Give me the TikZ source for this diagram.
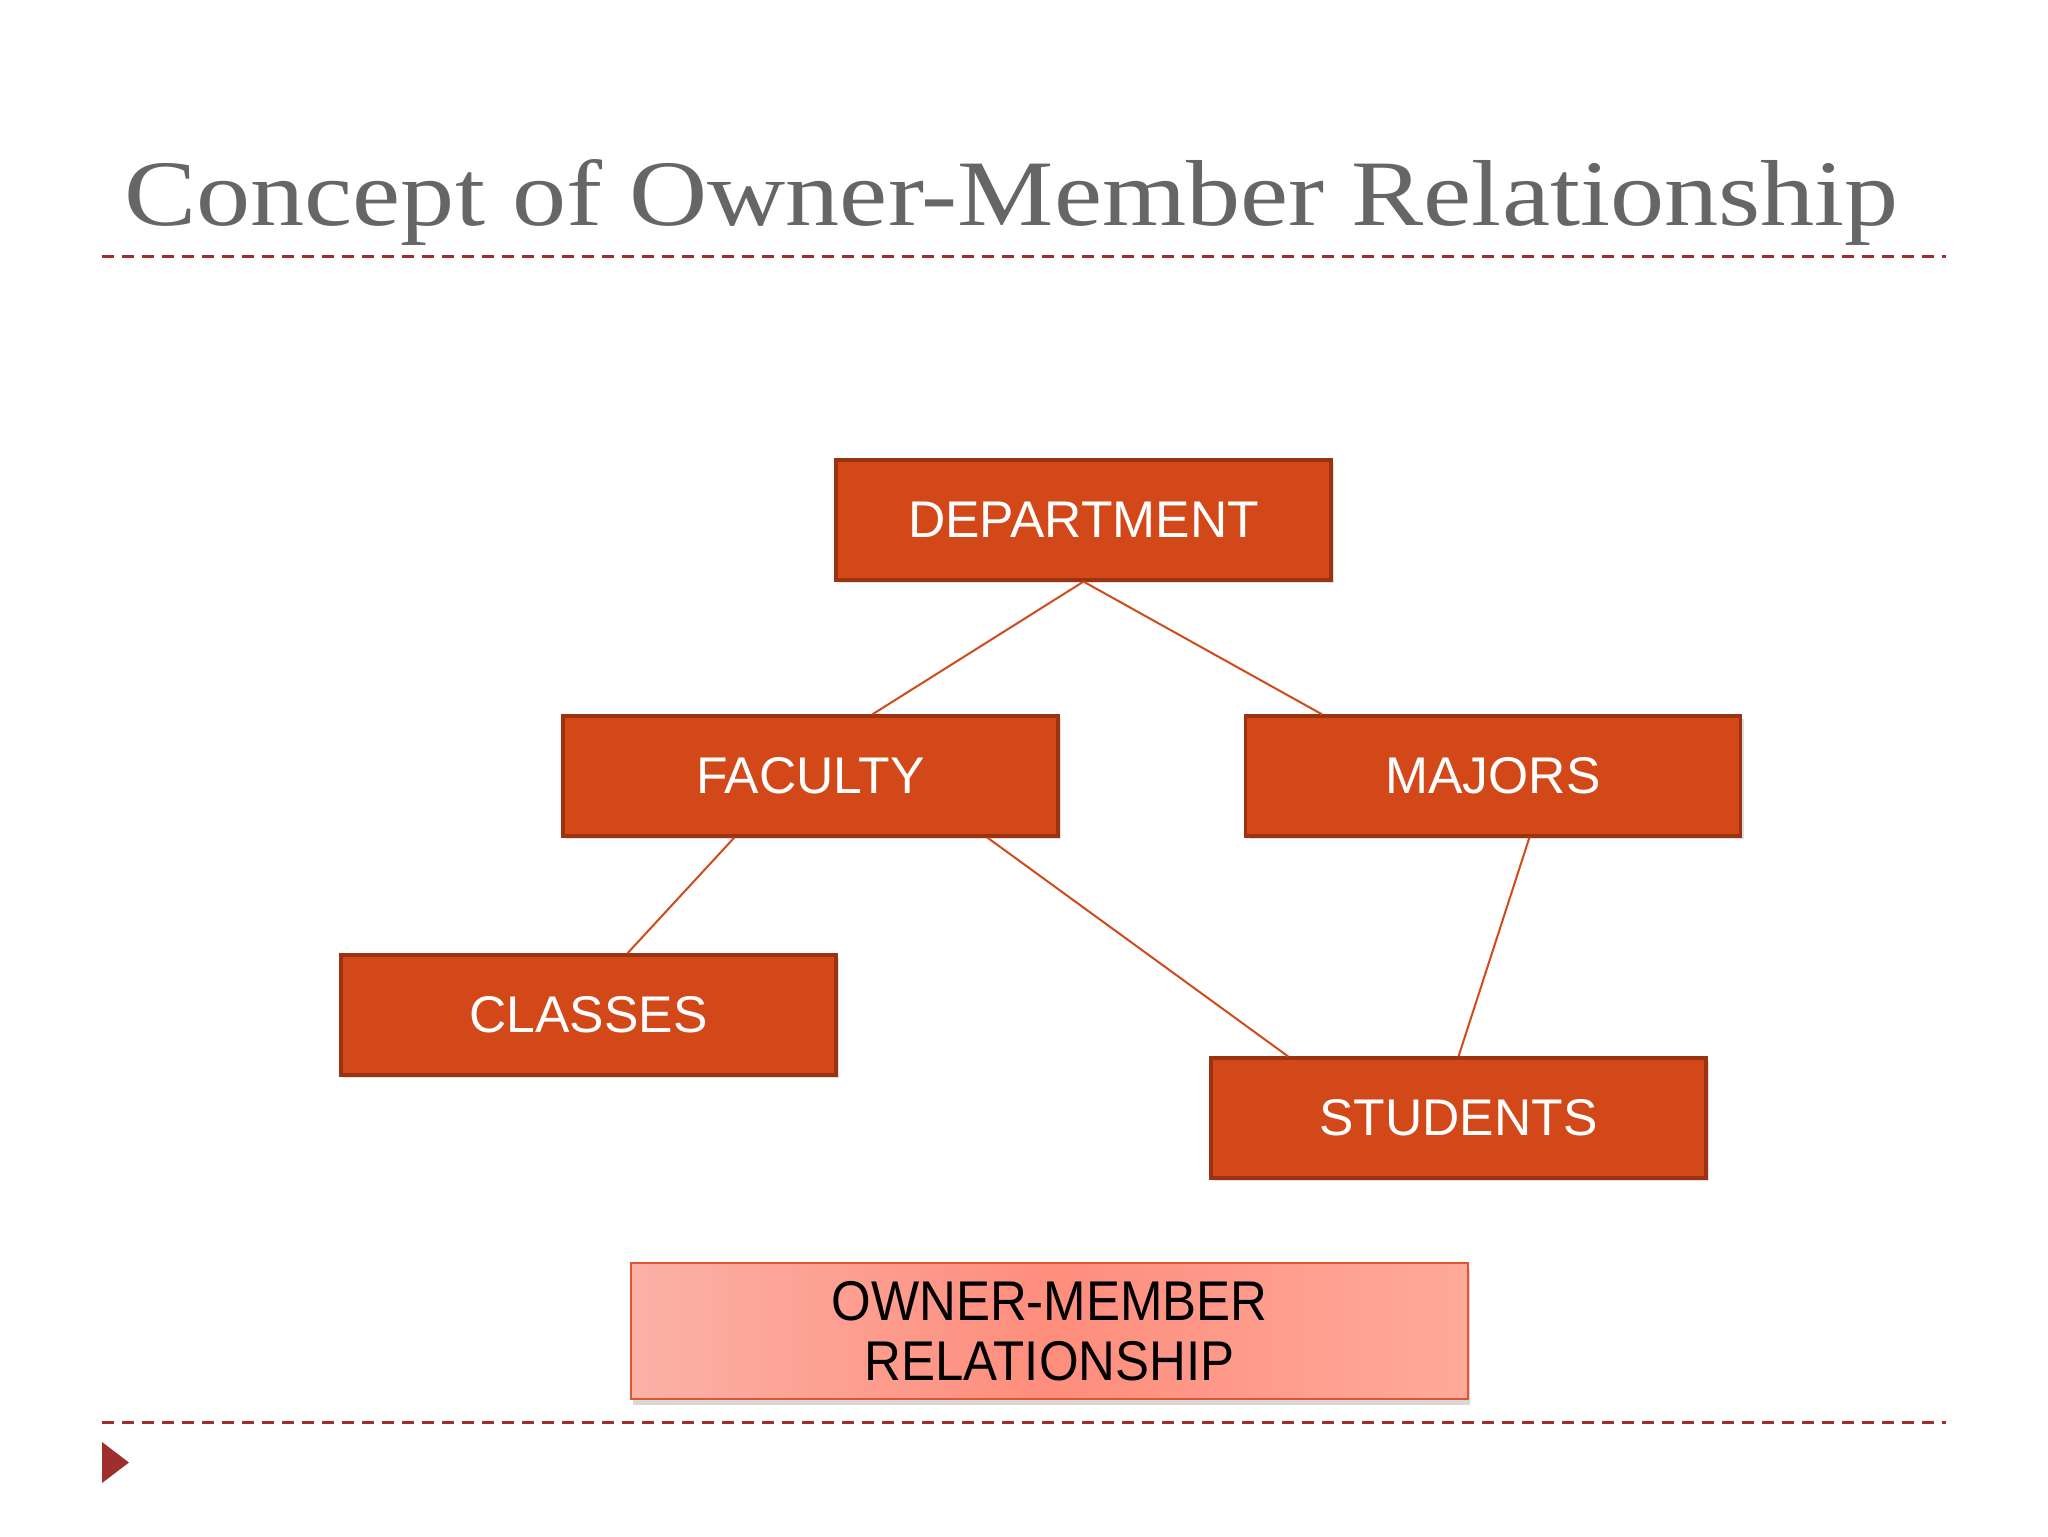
\documentclass[tikz,border=0pt]{standalone}
\usepackage{fontspec}
\setmainfont{Liberation Serif}
\setsansfont{Liberation Sans}
\usetikzlibrary{calc,shadows}
\definecolor{boxfill}{HTML}{D24818}
\definecolor{boxedge}{HTML}{9C3310}
\definecolor{linkc}{HTML}{D04A1C}
\definecolor{dashc}{HTML}{9E2F2C}
\definecolor{titlec}{HTML}{666666}
\definecolor{omedge}{HTML}{E2542E}
\definecolor{omleft}{HTML}{FBB2A7}
\definecolor{ommid}{HTML}{FE8D7C}
\definecolor{omright}{HTML}{FFAA9C}
\tikzset{
  entity/.style={draw=boxedge, line width=1.6pt, fill=boxfill, text=white,
    minimum width=247.5pt, minimum height=60pt, inner sep=0pt,
    font=\sffamily\fontsize{25.8}{30}\selectfont,
    drop shadow={shadow xshift=1.5pt, shadow yshift=-1.5pt, opacity=0.25}},
  link/.style={draw=linkc, line width=1pt},
  sepline/.style={draw=dashc, line width=1.5pt, dash pattern=on 6pt off 4pt},
  ombox/.style={draw=omedge, line width=1.2pt,
    left color=omleft, right color=omright, middle color=ommid,
    minimum width=418.5pt, minimum height=68pt, inner sep=0pt, align=center,
    font=\sffamily\fontsize{28}{30}\selectfont,
    drop shadow={shadow xshift=1pt, shadow yshift=-3pt, opacity=0.3}}
}
\begin{document}
\begin{tikzpicture}[x=0.5pt,y=-0.5pt]
\useasboundingbox[fill=white] (0,0) rectangle (2048,1536);
% title
\node[anchor=base west, inner sep=0pt, text=titlec] (title) at (124,225)
  {\resizebox{887pt}{33pt}{Concept of Owner-Member Relationship}};
\draw[sepline] (102,256) coordinate (s1a) -- (1946,256) coordinate (s1b);
\draw[sepline] (102,1422) coordinate (s2a) -- (1946,1422) coordinate (s2b);
\fill[dashc] (102,1442) coordinate (t1) -- (102,1483) coordinate (t2) -- (129,1462.5) coordinate (t3) -- cycle;
% boxes
\node[entity] (dept) at (1083.5,520) {DEPARTMENT};
\node[entity] (fac) at (810.5,776) {FACULTY};
\node[entity] (maj) at (1493,776) {MAJORS};
\node[entity] (cls) at (588.5,1015) {CLASSES};
\node[entity] (stu) at (1458.5,1118) {STUDENTS};
\node[ombox, shading=axis] (om) at (1049.5,1331)
  {\scalebox{0.91}[1]{OWNER-MEMBER}\\\scalebox{0.91}[1]{RELATIONSHIP}};
% connectors
\draw[link] (dept.south) -- ($(fac.north west)!0.624!(fac.north east)$);
\draw[link] (dept.south) -- ($(maj.north west)!0.157!(maj.north east)$);
\draw[link] ($(fac.south west)!0.347!(fac.south east)$) -- ($(cls.north west)!0.578!(cls.north east)$);
\draw[link] ($(fac.south west)!0.855!(fac.south east)$) -- ($(stu.north west)!0.158!(stu.north east)$);
\draw[link] ($(maj.south west)!0.573!(maj.south east)$) -- ($(stu.north west)!0.5!(stu.north east)$);
\end{tikzpicture}
\end{document}
